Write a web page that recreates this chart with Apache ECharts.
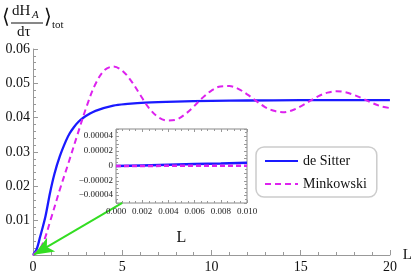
<!DOCTYPE html>
<html><head><meta charset="utf-8">
<script src="https://cdn.jsdelivr.net/npm/echarts@6/dist/echarts.min.js"></script>
<style>html,body{margin:0;padding:0;background:#fff}#c{width:415px;height:277px}</style>
</head><body><div id="c"></div>
<script>
// Main plot data
const deSitterL = [0,0.2,0.4,0.7,0.95,1.2,1.5,1.85,2.05,2.3,2.55,2.8,3.1,3.5,4.5,5.3,6.3,8,10,12,15,20];
const deSitterV = [0,0.0016,0.0053,0.0113,0.0180,0.0236,0.0287,0.0333,0.0354,0.0373,0.0388,0.0399,0.0409,0.0420,0.0435,0.0440,0.0444,0.0447,0.0449,0.0450,0.0451,0.0451];
const minkL = [0,0.5,1,1.5,2,2.5,3,3.5,4,4.5,5,5.5,6,6.5,7,7.5,8,8.5,9,9.5,10,10.5,11,11.5,12,12.5,13,13.5,14,14.5,15,15.5,16,16.5,17,17.5,18,18.5,19,19.5,20];
const minkV = [0,0.0028,0.0105,0.0190,0.0270,0.0352,0.0432,0.0498,0.0538,0.0549,0.0537,0.0507,0.0467,0.0428,0.0402,0.0392,0.0394,0.0409,0.0432,0.0458,0.0479,0.0491,0.0492,0.0484,0.0468,0.0449,0.0431,0.0420,0.0416,0.0421,0.0433,0.0448,0.0463,0.0473,0.0477,0.0474,0.0466,0.0455,0.0443,0.0433,0.0428];
// Inset data
const insetL = [0,0.002,0.004,0.006,0.008,0.010];
const insetDeSitter = [0,0.0000008,0.0000017,0.0000026,0.0000035,0.0000045];
const insetMink = [0,0.0000001,0.0000002,0.0000003,0.0000004,0.0000005];
// Inset y tick labels
const insetYTicks = [0.00004,0.00002,0,-0.00002,-0.00004];
const insetYLabels = ['0.00004','0.00002','0','−0.00002','−0.00004'];
// Arrow (from inset corner to origin), in main-plot coordinates
const arrowFrom = [5.0,0.0152];
const arrowTo = [0.05,0.0001];
const names = ['de Sitter','Minkowski'];

const BLUE='#1a1aff', MAG='#dd22ee', GREEN='#33dd22', AX='#999';
const serif='Liberation Serif, Times New Roman, serif';
const zip=(a,b)=>a.map((x,i)=>[x,b[i]]);

const chart=echarts.init(document.getElementById('c'),null,{renderer:'canvas'});
const titleGraphics=[
    {type:'text',left:2,top:8,style:{text:'⟨',font:'20px '+serif,fill:'#111'}},
    {type:'text',left:12,top:4,style:{text:'dH',font:'15px '+serif,fill:'#111'}},
    {type:'text',left:32,top:10,style:{text:'A',font:'italic 11px '+serif,fill:'#111'}},
    {type:'line',shape:{x1:11,y1:23,x2:43,y2:23},style:{stroke:'#111',lineWidth:1}},
    {type:'text',left:17,top:25,style:{text:'dτ',font:'15px '+serif,fill:'#111'}},
    {type:'text',left:44,top:8,style:{text:'⟩',font:'20px '+serif,fill:'#111'}},
    {type:'text',left:52,top:20,style:{text:'tot',font:'11px '+serif,fill:'#111'}}
];
chart.setOption({
  animation:false,
  textStyle:{fontFamily:serif},
  grid:[
    {left:33,right:22,top:49,bottom:22,containLabel:false},
    {left:116,top:129,width:131,height:74,show:true,backgroundColor:'#fff',borderColor:'#888',borderWidth:1,z:5}
  ],
  xAxis:[
    {type:'value',gridIndex:0,min:0,max:20,interval:5,
     axisLine:{onZero:false,lineStyle:{color:AX}},axisTick:{inside:true,length:5,lineStyle:{color:AX}},
     minorTick:{show:true,splitNumber:5,length:3,lineStyle:{color:AX}},
     splitLine:{show:false},axisLabel:{color:'#111',fontSize:14,fontFamily:serif,margin:5},
     name:'L',nameLocation:'end',nameGap:9,nameTextStyle:{color:'#111',fontSize:15,fontFamily:serif,verticalAlign:'middle'}},
    {type:'value',gridIndex:1,position:'bottom',min:0,max:0.010,interval:0.002,
     axisLine:{show:false,onZero:false},axisTick:{inside:true,length:3,lineStyle:{color:AX}},
     minorTick:{show:true,splitNumber:4,length:2,lineStyle:{color:AX}},
     splitLine:{show:false},
     axisLabel:{color:'#222',fontSize:9,fontFamily:serif,margin:4,formatter:v=>v.toFixed(3)},
     name:'L',nameLocation:'middle',nameGap:27,nameTextStyle:{color:'#111',fontSize:16,fontFamily:serif},z:6},
    {type:'value',gridIndex:1,position:'top',min:0,max:0.010,interval:0.002,
     axisLine:{show:false,onZero:false},axisTick:{inside:true,length:3,lineStyle:{color:AX}},
     minorTick:{show:true,splitNumber:4,length:2,lineStyle:{color:AX}},
     splitLine:{show:false},axisLabel:{show:false},z:6}
  ],
  yAxis:[
    {type:'value',gridIndex:0,position:'left',min:0,max:0.06,interval:0.01,
     axisLine:{show:true,onZero:false,lineStyle:{color:AX}},axisTick:{show:true,inside:true,length:5,lineStyle:{color:AX}},
     minorTick:{show:true,splitNumber:5,length:3,lineStyle:{color:AX}},
     splitLine:{show:false},
     axisLabel:{color:'#111',fontSize:14,fontFamily:serif,margin:3,formatter:v=>v===0?'':String(+v.toFixed(2))}},
    {type:'value',gridIndex:1,position:'left',min:-0.00005,max:0.00005,interval:0.00001,
     axisLine:{show:false,onZero:false},axisTick:{inside:true,length:3,lineStyle:{color:AX}},
     minorTick:{show:true,splitNumber:2,length:2,lineStyle:{color:AX}},
     splitLine:{show:false},axisLabel:{show:false},z:6},
    {type:'value',gridIndex:1,position:'right',min:-0.00005,max:0.00005,interval:0.00001,
     axisLine:{show:false,onZero:false},axisTick:{inside:true,length:3,lineStyle:{color:AX}},
     minorTick:{show:true,splitNumber:2,length:2,lineStyle:{color:AX}},
     splitLine:{show:false},axisLabel:{show:false},z:6}
  ],
  legend:{
    orient:'vertical',left:256,top:147,width:121,height:50,
    backgroundColor:'#fff',borderColor:'#ccc',borderWidth:1.5,borderRadius:8,
    padding:[7,10,6,8],itemWidth:33,itemHeight:10,itemGap:9,
    itemStyle:{opacity:0},
    textStyle:{fontFamily:serif,fontSize:14,color:'#111'},
    data:names
  },
  series:[
    {name:names[0],type:'line',xAxisIndex:0,yAxisIndex:0,data:zip(deSitterL,deSitterV),smooth:0.3,symbol:'none',
     lineStyle:{color:BLUE,width:2.3},itemStyle:{color:BLUE},z:3,
     markLine:{silent:true,symbol:['none','arrow'],symbolSize:[12,20],label:{show:false},
       lineStyle:{color:GREEN,width:2,type:'solid'},
       data:[[{coord:arrowFrom},{coord:arrowTo}]]}},
    {name:names[1],type:'line',xAxisIndex:0,yAxisIndex:0,data:zip(minkL,minkV),smooth:0.35,symbol:'none',
     lineStyle:{color:MAG,width:2,type:[6,4]},itemStyle:{color:MAG},z:3},
    {name:names[0],type:'line',xAxisIndex:1,yAxisIndex:1,data:zip(insetL,insetDeSitter),symbol:'none',
     lineStyle:{color:BLUE,width:2.5},z:7},
    {name:names[1],type:'line',xAxisIndex:1,yAxisIndex:1,data:zip(insetL,insetMink),symbol:'none',
     lineStyle:{color:MAG,width:2.5,type:[5,3]},z:8}
  ],
  graphic:titleGraphics
});
// Inset y tick labels placed through the inset axes' own scale, right-aligned by measured width
const mctx = document.createElement('canvas').getContext('2d');
const labelFont = '9px '+serif;
mctx.font = labelFont;
const yLabelGraphics = insetYTicks.map((v,i)=>{
  const p = chart.convertToPixel({xAxisIndex:1,yAxisIndex:1},[0,v]);
  const w = mctx.measureText(insetYLabels[i]).width;
  return {type:'text',x:p[0]-3-w,y:p[1]-5,z:100,
    style:{text:insetYLabels[i],font:labelFont,fill:'#222',align:'left',textAlign:'left'}};
});
chart.setOption({graphic:titleGraphics.concat(yLabelGraphics)});
</script></body></html>
